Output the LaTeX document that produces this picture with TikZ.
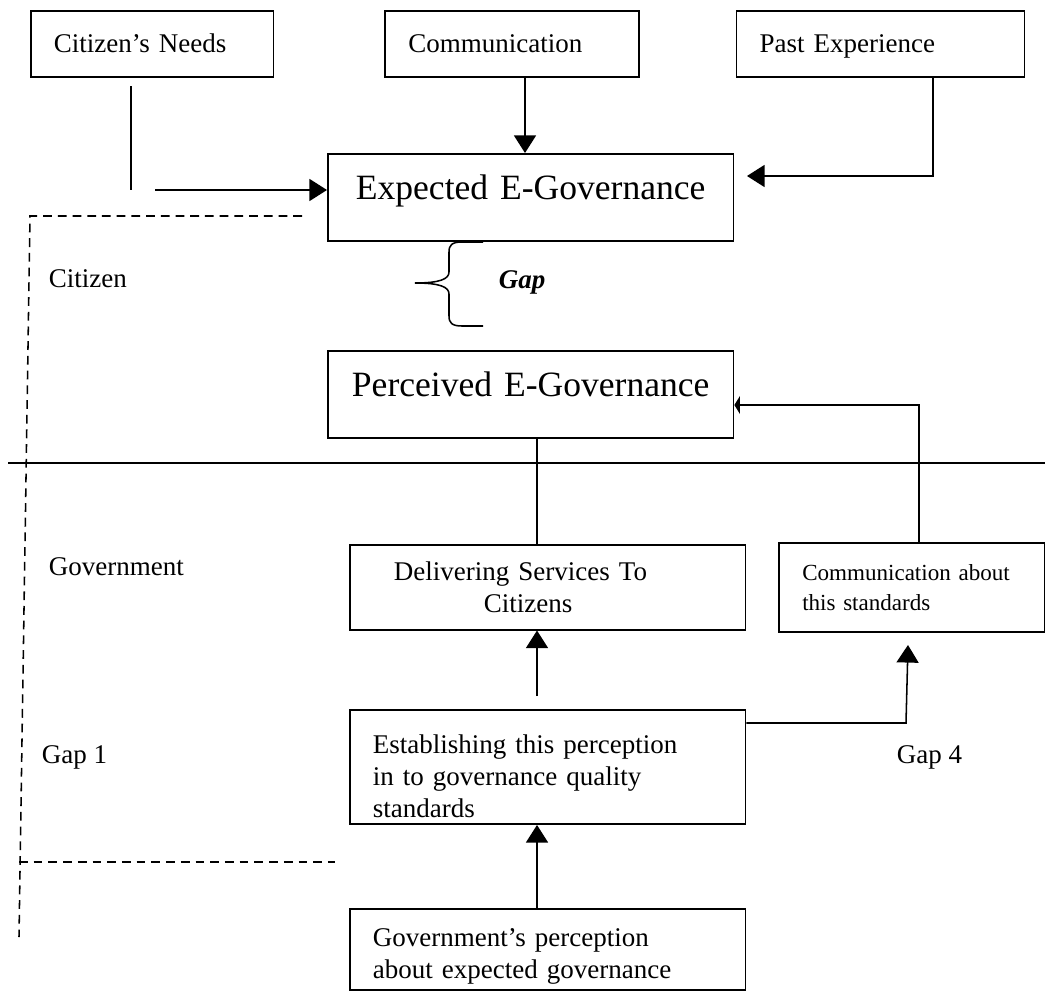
\documentclass[tikz,border=0pt]{standalone}
\usepackage{fontspec}
\setmainfont{Liberation Serif}
\usepackage{tikz}
\usetikzlibrary{positioning,calc,arrows.meta}

\begin{document}
\begin{tikzpicture}[x=0.016cm, y=-0.016cm, line width=0.7pt,
	every node/.style={font=\fontsize{12.3}{14.6}\selectfont},
	box/.style={draw, inner xsep=0.37cm, inner ysep=0pt, align=left},
	toprow/.style={box, minimum height=1.056cm, text height=8.2pt, text depth=0pt},
	big/.style={inner xsep=0.2cm, font=\fontsize{16.2}{19}\selectfont, align=center, text height=10pt, text depth=8pt},
	lbl/.style={anchor=base west, inner sep=0pt},
	arr/.style={-{Triangle[length=8pt,width=10pt]}},
	bartip/.style={-{Triangle[length=2.5pt,width=8pt]}},
	dashline/.style={dash pattern=on 4pt off 2.7pt}]
	\useasboundingbox (0,0) rectangle (1045,994);

	\node[toprow, anchor=north west, text width=3.148cm] (needs) at (30,10) {Citizen’s Needs};
	\node[toprow, right=1.76cm of needs, text width=3.324cm] (comm) {Communication};
	\node[toprow, right=1.536cm of comm, text width=3.868cm] (past) {Past Experience};

	\node[box, big, anchor=north west, text width=6.096cm, minimum height=1.392cm] (expected) at (327,153) {Expected E-Governance};
	\node[box, big, below=1.744cm of expected, text width=6.096cm, minimum height=1.392cm] (perceived) {Perceived E-Governance};

	\node[box, anchor=north west, text width=5.596cm, minimum height=1.36cm] (deliver) at (349,544) {\hspace*{0.336cm}Delivering Services To\\\hspace*{1.776cm}Citizens};
	\node[box, right=0.512cm of deliver, text width=3.516cm, minimum height=1.424cm, font=\fontsize{10.5}{13.7}\selectfont] (commabout) {Communication about\\this standards};
	\node[box, below=1.264cm of deliver, text width=5.596cm, minimum height=1.824cm] (establish) {\rule{0pt}{16.7pt}Establishing this perception\\in to governance quality\\standards};
	\node[box, below=1.33cm of establish, text width=5.596cm, minimum height=1.3cm] (gov) {\rule{0pt}{14.9pt}Government’s perception\\about expected governance};

	\node[lbl] (citizen) at (48,287) {Citizen};
	\node[lbl] (government) at (48,575) {Government};
	\node[lbl] (gap1) at (41,763) {Gap 1};
	\node[lbl] (gap4) at (896,763) {Gap 4};
	\node[lbl, font=\fontsize{12.3}{14.6}\selectfont\bfseries\itshape] (gap) at (498,288) {Gap};

	% turning points
	\coordinate (n1) at (131,86);
	\coordinate (n2) at (131,190);
	\coordinate (n3) at (155,190);
	\coordinate (c1) at (525,0);
	\coordinate (c2) at (537,0);
	\coordinate (pturn) at (933,176);
	\coordinate (ptip) at (747,176);
	\coordinate (c3) at (919,405);
	\coordinate (e1) at (537,696);
	\coordinate (g4) at (906,723);
	\coordinate (g4tip) at (908,645);

	\draw (n1) -- (n2);
	\draw[arr] (n3) -- (n3 -| expected.west);
	\draw[arr] (comm.south -| c1) -- (expected.north -| c1);
	\draw[arr] (past.south -| pturn) -- (pturn) -- (ptip);
	\draw (perceived.south -| c2) -- (deliver.north -| c2);
	\draw[bartip] (commabout.north -| c3) -- (c3) -- (c3 -| perceived.east);
	\draw[arr] (e1) -- (deliver.south -| e1);
	\draw[arr] (gov.north -| c2) -- (establish.south -| c2);
	\draw[arr] (establish.east |- g4) -- (g4) -- (g4tip);

	% gap brace
	\draw (483,242) -- (462,242) .. controls (452,242) and (449,245) .. (449,252) -- (449,272)
		.. controls (449,279) and (440,283) .. (415,283) .. controls (440,283) and (449,287) .. (449,294)
		-- (449,316) .. controls (449,323) and (452,326) .. (462,326) -- (483,326);

	% citizen / government split
	\draw (8,463) -- (1045,463);
	\draw[dashline] (302,216) -- (30,216) -- (19,937);
	\draw[dashline] (19,862) -- (335,862);

\end{tikzpicture}
\end{document}
